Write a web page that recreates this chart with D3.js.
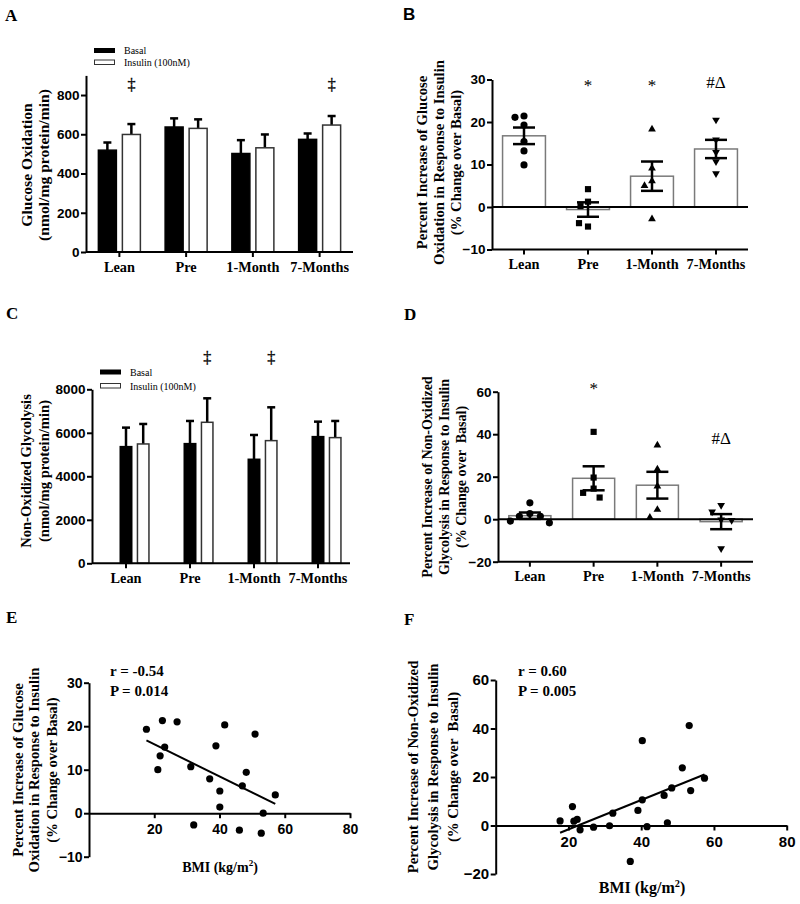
<!DOCTYPE html>
<html>
<head>
<meta charset="utf-8">
<script src="https://cdn.jsdelivr.net/npm/d3@7"></script>
<style>
  body { margin: 0; background: #fff; }
  text { fill: #000; }
</style>
</head>
<body>
<svg id="fig" width="800" height="904"></svg>
<script>
// ---- data ----
var categories = ["Lean", "Pre", "1-Month", "7-Months"];

// A: glucose oxidation (nmol/mg protein/min), mean and upper SEM
var oxBasal = [519, 637, 502, 574];
var oxBasalErr = [39, 44, 68, 30];
var oxInsulin = [599, 630, 531, 647];
var oxInsulinErr = [53, 46, 68, 46];
var oxTicks = [0, 200, 400, 600, 800];
var oxSig = ["Lean", "7-Months"];
var oxSigLevel = 828;

// C: non-oxidized glycolysis (nmol/mg protein/min)
var glyBasal = [5364, 5502, 4782, 5824];
var glyBasalErr = [874, 1042, 1118, 689];
var glyInsulin = [5487, 6483, 5640, 5778];
var glyInsulinErr = [919, 1103, 1532, 766];
var glyTicks = [0, 2000, 4000, 6000, 8000];
var glySig = ["Pre", "1-Month"];
var glySigLevel = 9190;

// B: % increase of glucose oxidation with insulin
var oxPctPoints = [
  [21.4, 21.1, 19.3, 15.4, 13.2, 9.9],
  [4.2, 1.25, 0.2, -4.6, -3.8],
  [18.3, 9.1, 6.1, 5.0, -2.8],
  [20.5, 15.8, 12.9, 10.7, 7.9]
];
var oxPctMean = [16.75, -0.6, 7.25, 13.65];
var oxPctSem = [1.95, 1.7, 3.45, 2.15];
var oxPctTicks = [-10, 0, 10, 20, 30];
var oxPctMarks = ["", "*", "*", "#Δ"];
var oxPctMarkAt = [0, 27.3, 27.3, 28.0];

// D: % increase of non-oxidized glycolysis with insulin
var glyPctPoints = [
  [2.7, 7.7, 1.4, 1.4, -0.9, -1.7],
  [41.1, 19.6, 14.4, 12.4, 10.2],
  [34.8, 23.5, 15.5, 4.5, 0.8],
  [6.6, 3.5, -0.2, -0.5, -13.8]
];
var glyPctMean = [1.65, 19.25, 16.0, -1.15];
var glyPctSem = [1.5, 5.65, 6.3, 3.55];
var glyPctTicks = [-20, 0, 20, 40, 60];
var glyPctMarks = ["", "*", "", "#Δ"];
var glyPctMarkAt = [0, 58.9, 0, 35.5];

// E: BMI vs % increase of glucose oxidation
var bmiE = [17.6, 22.5, 27.0, 41.6, 50.9, 38.9, 23.2, 21.8, 21.1, 31.2,
            48.2, 37.0, 47.0, 40.1, 57.1, 40.1, 53.4, 32.1, 46.1, 52.8];
var oxPctE = [19.3, 21.3, 21.0, 20.3, 18.2, 15.5, 15.2, 13.2, 10.0, 10.7,
              9.4, 7.9, 6.3, 5.1, 4.2, 1.4, 0.0, -2.7, -3.9, -4.6];
var statsE = ["r = -0.54", "P = 0.014"];

// F: BMI vs % increase of non-oxidized glycolysis
var bmiF = [17.7, 21.1, 21.5, 22.4, 23.2, 26.9, 31.3, 32.2, 39.1, 40.3, 41.6,
            40.3, 37.0, 46.3, 47.2, 48.4, 51.3, 53.2, 53.6, 57.4];
var glyPctF = [1.9, 7.8, 1.8, 2.5, -1.8, -0.7, -0.1, 5.1, 6.2, 10.6, -0.5,
               35.0, -14.8, 12.4, 1.1, 15.5, 23.8, 41.2, 14.4, 19.5];
var statsF = ["r = 0.60", "P = 0.005"];
var bmiTicks = [20, 40, 60, 80];

// ---- helpers ----
var SERIF = "'Liberation Serif', 'Times New Roman', serif";
var SANS = "'Liberation Sans', Arial, sans-serif";
var svg = d3.select("#fig");

function leftAxis(y, x, ticks, fs) {
  var a = svg.append("g").attr("transform", "translate(" + x + ",0)")
    .call(d3.axisLeft(y).tickValues(ticks).tickFormat(d3.format("d"))
      .tickSize(5).tickPadding(1.5).tickSizeOuter(0));
  a.select(".domain").attr("stroke-width", 2);
  a.selectAll(".tick line").attr("stroke-width", 2);
  a.selectAll(".tick text").attr("font-family", SANS).attr("font-weight", "bold").attr("font-size", fs);
  return a;
}

// category axis: ticks + serif labels, baseline drawn by hand
function catAxis(x, yPos, x0, x1) {
  var a = svg.append("g").attr("transform", "translate(0," + yPos + ")")
    .call(d3.axisBottom(x).tickSize(5).tickPadding(4.5));
  a.select(".domain").remove();
  a.selectAll(".tick line").attr("stroke-width", 2);
  a.selectAll(".tick text").attr("font-family", SERIF).attr("font-weight", "bold").attr("font-size", 14.3);
  a.append("line").attr("x1", x0).attr("x2", x1).attr("stroke", "#000").attr("stroke-width", 2);
}

function yTitle(lines, xs, cy, fs) {
  lines.forEach(function(t, i) {
    svg.append("text")
      .attr("transform", "translate(" + xs[i] + "," + cy + ") rotate(-90)")
      .attr("text-anchor", "middle").attr("dy", "0.35em")
      .attr("font-family", SERIF).attr("font-weight", "bold").attr("font-size", fs)
      .attr("fill", "#000")
      .style("white-space", "pre")
      .text(t);
  });
}

function panelLetter(t, x, y, font) {
  svg.append("text").attr("x", x).attr("y", y).attr("fill", "#000")
    .attr("font-family", font || SERIF).attr("font-weight", "bold").attr("font-size", 17).text(t);
}

function legend(x, y0, y1) {
  svg.append("rect").attr("x", x).attr("y", y0 - 2.5).attr("width", 21).attr("height", 5).attr("fill", "#000");
  svg.append("rect").attr("x", x + 0.5).attr("y", y1 - 2.5).attr("width", 20).attr("height", 4.5)
    .attr("fill", "#fff").attr("stroke", "#333").attr("stroke-width", 1);
  svg.append("text").attr("x", x + 30).attr("y", y0 + 3.5).attr("fill", "#000")
    .attr("font-family", SERIF).attr("font-size", 10).text("Basal");
  svg.append("text").attr("x", x + 30).attr("y", y1 + 3.5).attr("fill", "#000")
    .attr("font-family", SERIF).attr("font-size", 10).text("Insulin (100nM)");
}

// paired basal/insulin bars with upper error bar
function groupedBars(o) {
  var c = function(i) { return o.x(categories[i]) + o.x.bandwidth() / 2; };
  var bx = function(i) { return o.split ? c(i) - o.gap / 2 - o.w : c(i) - o.w / 2; };
  var ix = function(i) { return o.split ? c(i) + o.gap / 2 : c(i) + o.w / 2 + o.gap; };
  var sets = [
    { vals: o.basal, err: o.basalErr, left: bx, fill: "#000", stroke: "#000" },
    { vals: o.ins, err: o.insErr, left: ix, fill: "#fff", stroke: "#333" }
  ];
  sets.forEach(function(s) {
    var g = svg.append("g");
    g.selectAll("line.v").data(s.vals).enter().append("line")
      .attr("x1", function(d, i) { return s.left(i) + o.w / 2; })
      .attr("x2", function(d, i) { return s.left(i) + o.w / 2; })
      .attr("y1", function(d) { return o.y(d); })
      .attr("y2", function(d, i) { return o.y(d + s.err[i]); })
      .attr("stroke", "#000").attr("stroke-width", 2.5);
    g.selectAll("line.cap").data(s.vals).enter().append("line")
      .attr("x1", function(d, i) { return s.left(i) + o.w / 2 - 4; })
      .attr("x2", function(d, i) { return s.left(i) + o.w / 2 + 4; })
      .attr("y1", function(d, i) { return o.y(d + s.err[i]); })
      .attr("y2", function(d, i) { return o.y(d + s.err[i]); })
      .attr("stroke", "#000").attr("stroke-width", 2.5);
    g.selectAll("rect").data(s.vals).enter().append("rect")
      .attr("x", function(d, i) { return s.left(i); })
      .attr("width", o.w)
      .attr("y", function(d) { return o.y(d); })
      .attr("height", function(d) { return o.y(0) - o.y(d); })
      .attr("fill", s.fill).attr("stroke", s.stroke).attr("stroke-width", 1.5);
  });
  svg.append("g").selectAll("text").data(o.sig).enter().append("text")
    .attr("x", function(d) { return ix(categories.indexOf(d)) + o.w / 2; })
    .attr("y", o.y(o.sigLevel))
    .attr("text-anchor", "middle").attr("font-family", SERIF).attr("font-size", 16)
    .attr("fill", "#000").attr("stroke", "#000").attr("stroke-width", 0.3)
    .text("‡");
}

// simple beeswarm so that overlapping dots are spread sideways
function swarm(vals, y, cx, d) {
  var placed = [];
  return vals.map(function(v) {
    var py = y(v);
    for (var k = 0; k < 60; k++) {
      var off = k === 0 ? 0 : (k % 2 ? -1 : 1) * Math.ceil(k / 2) * 1.5;
      var px = cx + off;
      var ok = placed.every(function(p) { return Math.hypot(p[0] - px, p[1] - py) >= d; });
      if (ok) { placed.push([px, py]); return [px, py]; }
    }
    return [cx, py];
  });
}

var symbols = [
  d3.symbol().type(d3.symbolCircle).size(40)(),
  d3.symbol().type(d3.symbolSquare).size(38)(),
  d3.symbol().type(d3.symbolTriangle).size(26)(),
  d3.symbol().type(d3.symbolTriangle).size(26)()
];

// white bars + individual points + mean +/- SEM
function dotBars(o) {
  var bw = o.x.bandwidth();
  var c = function(i) { return o.x(categories[i]) + bw / 2; };
  svg.append("g").selectAll("rect").data(o.mean).enter().append("rect")
    .attr("x", function(d, i) { return o.x(categories[i]); })
    .attr("width", bw)
    .attr("y", function(d) { return Math.min(o.y(0), o.y(d)); })
    .attr("height", function(d) { return Math.abs(o.y(d) - o.y(0)); })
    .attr("fill", "#fff").attr("stroke", "#7a7a7a").attr("stroke-width", 1.5);
  svg.append("line").attr("x1", o.x0).attr("x2", o.x1)
    .attr("y1", o.y(0)).attr("y2", o.y(0)).attr("stroke", "#000").attr("stroke-width", 2);
  o.points.forEach(function(vals, i) {
    var pos = swarm(vals, o.y, c(i), o.dot);
    svg.append("g").selectAll("path").data(pos).enter().append("path")
      .attr("d", symbols[i])
      .attr("transform", function(p) { return "translate(" + p[0] + "," + p[1] + ")" + (i === 3 ? " rotate(180)" : ""); })
      .attr("fill", "#000");
  });
  var eg = svg.append("g").attr("stroke", "#000").attr("stroke-width", 2.5);
  o.mean.forEach(function(m, i) {
    var lo = o.y(m - o.sem[i]), hi = o.y(m + o.sem[i]);
    eg.append("line").attr("x1", c(i)).attr("x2", c(i)).attr("y1", lo).attr("y2", hi);
    eg.append("line").attr("x1", c(i) - 11).attr("x2", c(i) + 11).attr("y1", lo).attr("y2", lo);
    eg.append("line").attr("x1", c(i) - 11).attr("x2", c(i) + 11).attr("y1", hi).attr("y2", hi);
  });
  svg.append("g").selectAll("text").data(o.marks).enter().append("text")
    .attr("x", function(d, i) { return c(i); })
    .attr("y", function(d, i) { return o.y(o.markAt[i]); })
    .attr("text-anchor", "middle").attr("font-family", SERIF).attr("font-size", 17)
    .attr("fill", "#000")
    .text(function(d) { return d; });
}

function scatter(o) {
  leftAxis(o.y, o.x.range()[0], o.yTicks, o.fs);
  var a = svg.append("g").attr("transform", "translate(0," + o.y(0) + ")")
    .call(d3.axisBottom(o.x).tickValues(bmiTicks).tickSize(5).tickPadding(o.pad).tickSizeOuter(0));
  a.select(".domain").attr("stroke-width", 2);
  a.selectAll(".tick line").attr("stroke-width", 2);
  a.selectAll(".tick text").attr("font-family", SANS).attr("font-weight", "bold").attr("font-size", o.fs);

  // least-squares line over the data range
  var mx = d3.mean(o.xs), my = d3.mean(o.ys);
  var sxy = d3.sum(o.xs, function(v, i) { return (v - mx) * (o.ys[i] - my); });
  var sxx = d3.sum(o.xs, function(v) { return (v - mx) * (v - mx); });
  var b = sxy / sxx, a0 = my - b * mx;
  var ext = d3.extent(o.xs);
  svg.append("line")
    .attr("x1", o.x(ext[0])).attr("y1", o.y(a0 + b * ext[0]))
    .attr("x2", o.x(ext[1])).attr("y2", o.y(a0 + b * ext[1]))
    .attr("stroke", "#000").attr("stroke-width", 2);

  svg.append("g").selectAll("circle").data(o.xs).enter().append("circle")
    .attr("cx", function(d) { return o.x(d); })
    .attr("cy", function(d, i) { return o.y(o.ys[i]); })
    .attr("r", 3.6).attr("fill", "#000");

  o.stats.forEach(function(t, i) {
    svg.append("text").attr("x", o.statX).attr("y", o.statY + i * 20).attr("fill", "#000")
      .attr("font-family", SERIF).attr("font-weight", "bold").attr("font-size", 15).text(t);
  });
  var t = svg.append("text").attr("x", o.titleX).attr("y", o.titleY).attr("text-anchor", "middle")
    .attr("fill", "#000")
    .attr("font-family", SERIF).attr("font-weight", "bold").attr("font-size", o.titleFs);
  t.append("tspan").text("BMI (kg/m");
  t.append("tspan").attr("dy", -6).attr("font-size", o.titleFs * 0.65).text("2");
  t.append("tspan").attr("dy", 6).text(")");
}

// ---- Panel A ----
panelLetter("A", 5, 21);
var xA = d3.scaleBand().domain(categories).range([86, 353]);
var yA = d3.scaleLinear().domain([0, 900]).range([252, 75.4]);
legend(94, 50.5, 62.5);
groupedBars({ x: xA, y: yA, basal: oxBasal, basalErr: oxBasalErr, ins: oxInsulin, insErr: oxInsulinErr,
  w: 18, gap: 6, split: true, sig: oxSig, sigLevel: oxSigLevel });
leftAxis(yA, 86, oxTicks, 13.5);
catAxis(xA, 252, 86, 353);
yTitle(["Glucose Oxidation", "(nmol/mg protein/min)"], [27, 44], 165, 15.6);

// ---- Panel B ----
panelLetter("B", 403, 20, SANS);
var xB = d3.scaleBand().domain(categories).range([492, 748]).paddingInner(0.33).paddingOuter(0.165);
var yB = d3.scaleLinear().domain([-10, 30]).range([249.5, 79.5]);
dotBars({ x: xB, y: yB, x0: 492, x1: 748, points: oxPctPoints, mean: oxPctMean, sem: oxPctSem,
  marks: oxPctMarks, markAt: oxPctMarkAt, dot: 8.5 });
leftAxis(yB, 492, oxPctTicks, 13.5);
catAxis(xB, 249.5, 492, 748);
yTitle(["Percent Increase of Glucose", "Oxidation in Response to Insulin", "(% Change over Basal)"],
  [422, 438.5, 456], 162.5, 14.7);

// ---- Panel C ----
panelLetter("C", 6, 319);
var xC = d3.scaleBand().domain(categories).range([94, 350]);
var yC = d3.scaleLinear().domain([0, 8000]).range([563.3, 389.3]);
legend(100, 372, 386);
groupedBars({ x: xC, y: yC, basal: glyBasal, basalErr: glyBasalErr, ins: glyInsulin, insErr: glyInsulinErr,
  w: 11.5, gap: 5.7, split: false, sig: glySig, sigLevel: glySigLevel });
leftAxis(yC, 92, glyTicks, 13.5);
catAxis(xC, 563.3, 92, 350);
yTitle(["Non-Oxidized Glycolysis", "(nmol/mg protein/min)"], [26, 43.5], 471, 14.6);

// ---- Panel D ----
panelLetter("D", 404, 320);
var xD = d3.scaleBand().domain(categories).range([498, 753]).paddingInner(0.34).paddingOuter(0.17);
var yD = d3.scaleLinear().domain([-20, 60]).range([561.7, 391.7]);
dotBars({ x: xD, y: yD, x0: 498, x1: 753, points: glyPctPoints, mean: glyPctMean, sem: glyPctSem,
  marks: glyPctMarks, markAt: glyPctMarkAt, dot: 10 });
leftAxis(yD, 498, glyPctTicks, 13.5);
catAxis(xD, 561.7, 498, 753);
yTitle(["Percent Increase of Non-Oxidized", "Glycolysis in Response to Insulin", "(% Change over  Basal)"],
  [427, 444, 461], 477, 14);

// ---- Panel E ----
panelLetter("E", 6, 623);
var xE = d3.scaleLinear().domain([0, 80]).range([89, 350]);
var yE = d3.scaleLinear().domain([-10, 30]).range([856.7, 682.7]);
scatter({ x: xE, y: yE, xs: bmiE, ys: oxPctE, yTicks: oxPctTicks, fs: 14, pad: 5.5,
  stats: statsE, statX: 110, statY: 676, titleX: 220, titleY: 872, titleFs: 14 });
yTitle(["Percent Increase of Glucose", "Oxidation in Response to Insulin", "(% Change over Basal)"],
  [17.5, 34, 51.5], 770, 14.7);

// ---- Panel F ----
panelLetter("F", 404, 625);
var xF = d3.scaleLinear().domain([0, 80]).range([495.7, 786.7]);
var yF = d3.scaleLinear().domain([-20, 60]).range([874, 680]);
scatter({ x: xF, y: yF, xs: bmiF, ys: glyPctF, yTicks: glyPctTicks, fs: 15, pad: 6,
  stats: statsF, statX: 518, statY: 676, titleX: 642, titleY: 893, titleFs: 16 });
yTitle(["Percent Increase of Non-Oxidized", "Glycolysis in Response to Insulin", "(% Change over  Basal)"],
  [413, 433, 452.5], 767, 14.8);
</script>
</body>
</html>
